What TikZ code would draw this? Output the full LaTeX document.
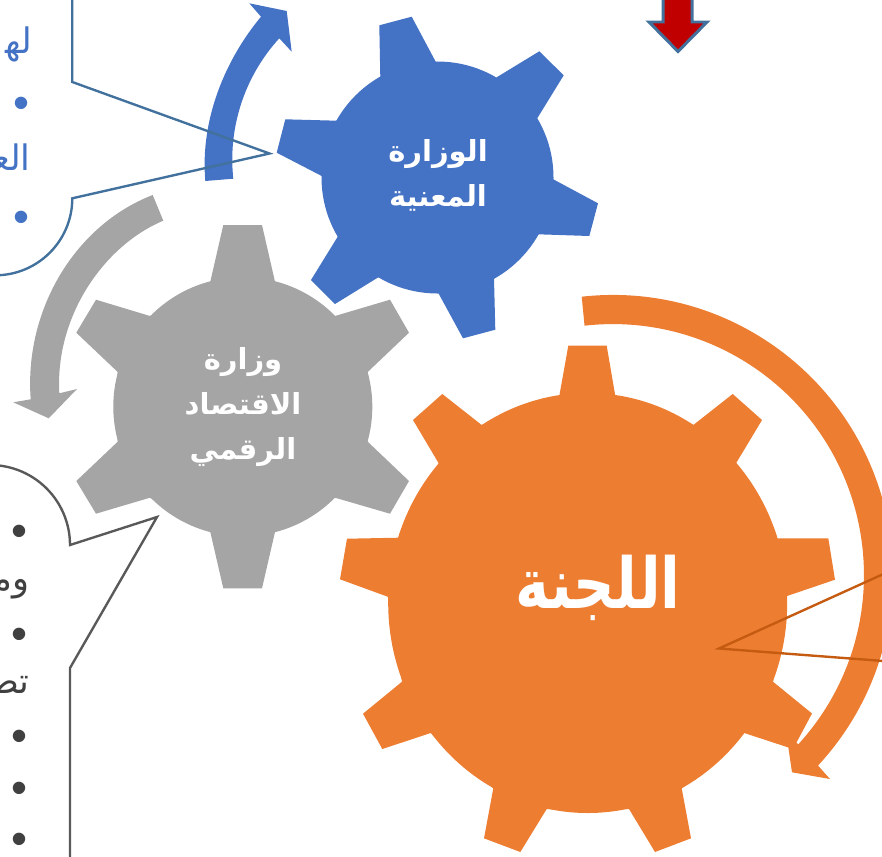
\documentclass[tikz,border=0pt]{standalone}
\usepackage{fontspec}
\newfontfamily\arabicfont[Script=Arabic]{DejaVu Sans}
\newfontfamily\bulletfont{Liberation Sans}
\TeXXeTstate=1
\definecolor{gearblue}{HTML}{4472C4}
\definecolor{geargray}{HTML}{A5A5A5}
\definecolor{gearorange}{HTML}{ED7D31}
\definecolor{lineblue}{HTML}{41719C}
\definecolor{linegray}{HTML}{595959}
\definecolor{lineorange}{HTML}{C55A11}
\definecolor{arrowred}{HTML}{C00000}
\definecolor{textgray}{HTML}{404040}

\tikzset{
  gearlabel/.style={text=white,align=center,inner sep=0pt,font=\arabicfont\bfseries\fontsize{16.5}{25.5}\selectfont},
  cutlabel/.style={anchor=base east,inner sep=0pt,font=\arabicfont\fontsize{20}{24}\selectfont},
  dotlabel/.style={inner sep=0pt,font=\bulletfont\fontsize{26}{26}\selectfont}
}

\begin{document}
\begin{tikzpicture}[x=.02cm,y=-.02cm]
\useasboundingbox (0,0) rectangle (882,856);
\clip (0,0) rectangle (882,856);

% red arrow
\draw[line width=1.7pt,color=lineblue,fill=arrowred,miter limit=10]
  (663,-8) -- (663,22) -- (649,22) -- (678,51.5) -- (707,22) -- (692,22) -- (692,-8) -- cycle;

% blue gear
\fill[gearblue] (437.5,177.5) circle (116);
\fill[gearblue] (379.3,25.3) -- (411.7,16.7) -- (435.7,61.7) -- (496,77.7) -- (539.3,51.3) -- (563.7,75.3)
  -- (537,118.7) -- (553.3,179.3) -- (598,203.3) -- (589.3,236) -- (538.3,234.3) -- (494,278.3)
  -- (495.3,329.7) -- (463,338.3) -- (438.3,293) -- (378.3,277.3) -- (335,304) -- (311,280)
  -- (337.7,236.7) -- (321.7,176) -- (276.7,152.7) -- (285.3,119.3) -- (336.7,120.7) -- (380.3,77) -- cycle;

% gray gear
\fill[geargray] (242.8,406.7) circle (129.5);
\fill[geargray] (223.3,225) -- (262,225) -- (275,281.7) -- (335,316) -- (390,299.7) -- (409,332.7)
  -- (367.7,372) -- (367.7,441.7) -- (409,481) -- (390,513.7) -- (335,497.7) -- (275,532)
  -- (262,588.3) -- (223.3,588.3) -- (210.3,532) -- (150,497.7) -- (96,513.7) -- (76.3,481)
  -- (117.7,441.7) -- (117.7,372) -- (76.3,332.7) -- (96,299.7) -- (150,316) -- (210.3,281.7) -- cycle;

% orange gear
\fill[gearorange] (587.7,603) ellipse (199.5 and 210);
\fill[gearorange] (568.3,345.7) -- (606.7,345.7) -- (615.3,396) -- (693.3,425) -- (732.7,394) -- (762,420)
  -- (736,463.3) -- (777,538.3) -- (828.3,538.3) -- (835,579.7) -- (787,596) -- (773,681.7)
  -- (812,713.5) -- (793,749) -- (744.3,733) -- (681.7,788.3) -- (691,838.3) -- (655,852)
  -- (629,809) -- (546.7,809) -- (520.3,852) -- (484,838.3) -- (493.3,788.3) -- (430.7,733)
  -- (382.3,749) -- (363,713.7) -- (402,681.7) -- (387.7,596.7) -- (340,579.3) -- (347,538.7)
  -- (398.3,537.7) -- (438.7,463.3) -- (413,420) -- (442.3,394) -- (481.7,425) -- (559.3,396) -- cycle;

% curved arrows
\fill[gearblue] (205.3,181) .. controls (200,120) and (225,60) .. (261,16.7) -- (249.3,3.3) -- (286.7,11)
  -- (291.7,51.7) -- (279.3,38.3) .. controls (243,78) and (228,130) .. (233.3,178.7) -- cycle;
\fill[geargray] (152.7,195) .. controls (75,225) and (24,310) .. (30.7,399.3) -- (13.3,402.3) -- (48.7,418.3)
  -- (77,389) -- (59.3,393.3) .. controls (55,315) and (105,245) .. (163.3,220.7) -- cycle;
\fill[gearorange] (581.7,296.7) arc[start angle=-96.4,end angle=42.9,radius=280] -- (830,779) -- (792,772.3)
  -- (786.4,734) -- (798.3,744.3) arc[start angle=42.4,end angle=-96.5,radius=251] -- cycle;

% callouts
\draw[line width=1.35pt,color=lineblue] (72.3,-5) -- (72.3,82) -- (269.5,153.5) -- (72.3,198.3)
  arc[start angle=0,end angle=90,radius=77];
\draw[line width=1.35pt,color=linegray] (-10,465) arc[start angle=-90,end angle=0,radius=80]
  -- (157,517) -- (70,668) -- (70,862);
\draw[line width=1.35pt,color=lineorange] (890,571) -- (719,648.5) -- (890,661.5);

% gear texts
\node[gearlabel] (ministry) at (438,175) {\beginR الوزارة\endR\\\beginR المعنية\endR};
\node[gearlabel] (economy) at (243,407) {\beginR وزارة\endR\\\beginR الاقتصاد\endR\\\beginR الرقمي\endR};
\node[gearlabel,font=\arabicfont\bfseries\fontsize{40}{48}\selectfont,xscale=.82,transform shape] (committee) at (598,588) {\beginR اللجنة\endR};

% cut texts
\node[cutlabel,text=gearblue] (blueone) at (33,53) {\beginR له‍\endR};
\node[cutlabel,text=gearblue] (bluetwo) at (31,170) {\beginR الع‍\endR};
\node[cutlabel,text=textgray] (grayone) at (30,590) {\beginR وم‍\endR};
\node[cutlabel,text=textgray] (graytwo) at (30,693) {\beginR تص‍\endR};

% bullets
\foreach \ypos [count=\i] in {108,222}
  \node[dotlabel,text=gearblue] (bluedot\i) at (21,\ypos) {•};
\foreach \ypos [count=\i] in {536,639,741,793,844}
  \node[dotlabel,text=textgray] (graydot\i) at (19,\ypos) {•};

\end{tikzpicture}
\end{document}
